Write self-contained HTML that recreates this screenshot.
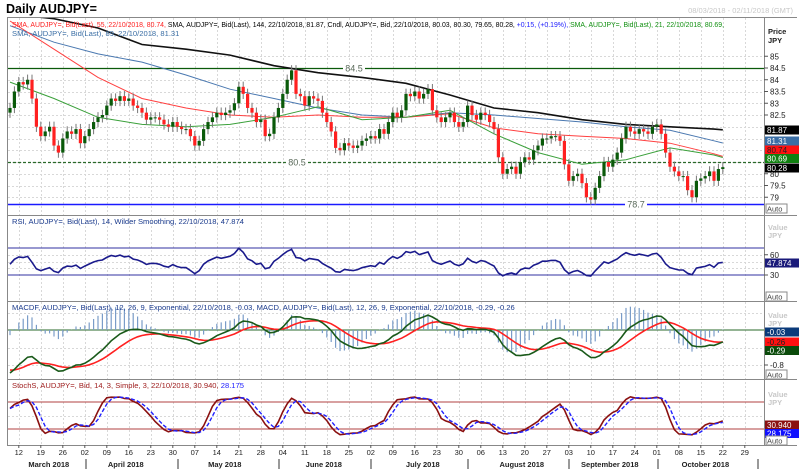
<!DOCTYPE html>
<html><head><meta charset="utf-8"><style>
body{margin:0;background:#fff;}
svg{display:block;font-family:"Liberation Sans",sans-serif;}
</style></head><body>
<svg id="c" width="800" height="474" viewBox="0 0 800 474">
<rect x="0" y="0" width="800" height="474" fill="#fff"/>
<text x="6" y="13" font-size="12.5" font-weight="bold" fill="#000">Daily AUDJPY=</text>
<text x="793" y="13" font-size="7.5" fill="#c8c8c8" text-anchor="end">08/03/2018 - 02/11/2018 (GMT)</text>
<g id="grid"></g>
<g id="frame" stroke="#888" fill="none" stroke-width="1">
<line x1="7.5" y1="17" x2="7.5" y2="445"/>
<line x1="7.5" y1="17.5" x2="797" y2="17.5"/>
<line x1="764.5" y1="17" x2="764.5" y2="445"/>
<line x1="7" y1="215.5" x2="797" y2="215.5"/>
<line x1="7" y1="301.5" x2="797" y2="301.5"/>
<line x1="7" y1="379.5" x2="797" y2="379.5"/>
<line x1="7" y1="445.5" x2="797" y2="445.5"/>
</g>
<g id="price"></g><g id="rsi"></g><g id="macd"></g><g id="stoch"></g><g id="axes"></g>
<g font-size="7.6">
<text x="12" y="27" textLength="712" lengthAdjust="spacingAndGlyphs"><tspan fill="#ff2020">SMA, AUDJPY=, Bid(Last),  55, 22/10/2018, 80.74, </tspan><tspan fill="#000">SMA, AUDJPY=, Bid(Last),  144, 22/10/2018, 81.87, Cndl, AUDJPY=, Bid, 22/10/2018, 80.03, 80.30, 79.65, 80.28, </tspan><tspan fill="#2020ff">+0.15, (+0.19%), </tspan><tspan fill="#109010">SMA, AUDJPY=, Bid(Last),  21, 22/10/2018, 80.69,</tspan></text>
<text x="12" y="36" fill="#3a6ea5">SMA, AUDJPY=, Bid(Last),  89, 22/10/2018, 81.31</text>
</g>
<text x="12" y="224" font-size="7.6" fill="#1a3a8c">RSI, AUDJPY=, Bid(Last),  14, Wilder Smoothing, 22/10/2018, 47.874</text>
<text x="12" y="310" font-size="7.6" fill="#1a3a8c">MACDF, AUDJPY=, Bid(Last),  12, 26, 9, Exponential, 22/10/2018, -0.03, MACD, AUDJPY=, Bid(Last),  12, 26, 9, Exponential, 22/10/2018, -0.29, -0.26</text>
<text x="12" y="388" font-size="7.6"><tspan fill="#a02020">StochS, AUDJPY=, Bid,  14, 3, Simple, 3, 22/10/2018, 30.940, </tspan><tspan fill="#2020ff">28.175</tspan></text>
</svg>
<script>
const closes=[82.8,83.5,83.9,83.8,84.0,83.2,82.0,81.6,81.8,82.0,
81.2,80.9,81.5,81.8,81.7,81.9,81.3,81.6,81.9,82.2,
82.4,82.5,82.9,83.2,83.1,83.3,83.1,83.2,82.9,82.8,
82.6,82.3,82.4,82.4,82.3,82.1,82.0,82.2,82.0,81.9,
81.9,81.6,81.2,81.4,81.9,82.2,82.4,82.6,82.5,82.6,
82.7,83.0,83.7,83.4,82.8,82.6,82.2,82.3,81.6,81.7,
82.4,82.8,83.4,84.0,84.4,83.4,83.3,82.9,83.3,83.2,
83.1,82.6,82.2,81.8,81.1,81.0,81.3,81.2,81.1,81.2,
81.4,81.5,81.6,81.5,81.9,81.7,82.2,82.6,82.4,82.7,
83.4,83.3,83.5,83.2,83.4,83.6,82.7,82.4,82.2,82.4,
82.6,82.2,82.0,82.2,82.9,82.5,82.3,82.6,82.5,82.2,
81.9,80.7,80.0,80.2,80.3,80.0,80.5,80.7,80.6,81.0,
81.2,81.5,81.5,81.6,81.6,81.4,80.4,79.7,79.9,80.0,
79.6,79.0,78.9,79.4,79.9,80.5,80.3,80.6,80.9,81.5,
82.0,81.8,81.7,81.9,81.8,81.7,82.0,82.1,81.7,80.9,
80.3,80.1,79.9,79.9,79.3,79.0,79.7,79.8,79.9,80.1,
79.7,80.2,80.28];
const firstOpen=82.6;
const maIndex=[0,10,20,30,40,50,60,70,80,90,100,110,120,130,140,150,160,162];
const sma21=[83.9,83.2,82.4,82.1,82.0,82.1,82.4,82.85,82.3,82.4,82.7,81.7,80.9,80.4,80.6,81.1,80.8,80.69];
const sma55=[86.5,85.3,84.1,83.2,82.8,82.5,82.4,82.5,82.4,82.4,82.55,81.95,81.7,81.6,81.5,81.3,80.85,80.74];
const sma89=[86.3,85.6,85.1,84.75,84.2,83.6,83.2,82.8,82.5,82.4,82.6,82.5,82.35,82.2,82.0,81.85,81.4,81.31];
const sma144=[86.8,86.6,86.2,85.5,85.3,85.05,84.6,84.3,84.1,83.85,83.35,82.8,82.6,82.3,82.1,82.0,81.9,81.87];
const priceTicks=[85,84.5,84,83.5,83,82.5,80,79.5,79];
const levelLines=[84.5,80.5,78.7];
const rsiTicks=[60,30];
const macdTicks=[-0.8];
const lastRsi="47.874", lastMacdf="-0.03", lastSignal="-0.26", lastMacd="-0.29", lastK="30.940", lastD="28.175";
const dayLabels=["12","19","26","02","09","16","23","30","07","14","21","28","04","11","18","25","02","09","16","23","30","06","13","20","27","03","10","17","24","01","08","15","22","29"];
const monthLabels=["March 2018","April 2018","May 2018","June 2018","July 2018","August 2018","September 2018","October 2018"];
const monthFirstWeek=[0,3,7,12,16,21,25,29];
const rsiSeed={gain:0.17,loss:0.2};
const macdSeed={fast:83.5,slow:84.5,signal:-0.9};

const NS="http://www.w3.org/2000/svg";
function el(tag,attrs,parent){const e=document.createElementNS(NS,tag);for(const k in attrs)e.setAttribute(k,attrs[k]);parent.appendChild(e);return e;}
const X=i=>10+4.4*i;
const PY=p=>68+(84.5-p)*23.5;
const RY=v=>248+(70-v)*0.675;
const MY=v=>330-v*43.75;
const SY=v=>402+(80-v)*0.45;
const n=closes.length;
const opens=closes.map((c,i)=>i===0?firstOpen:closes[i-1]);
const highs=closes.map((c,i)=>Math.max(c,opens[i])+0.22);
const lows=closes.map((c,i)=>Math.min(c,opens[i])-0.22);

const grid=document.getElementById('grid');
dayLabels.forEach((d,k)=>{const x=Math.round(X(2+5*k))+0.5;
  if(x<764){const g=el('line',{x1:x,y1:18,x2:x,y2:445,stroke:'#d8d8d8','stroke-dasharray':'2,2'},grid);
  }});
for(let p=79;p<=85;p+=0.5){const y=Math.round(PY(p))+0.5;const g=el('line',{x1:8,y1:y,x2:764,y2:y,stroke:'#d8d8d8','stroke-dasharray':'2,2'},grid);}
[40,50,60].forEach(v=>{const y=Math.round(RY(v))+0.5;el('line',{x1:8,y1:y,x2:764,y2:y,stroke:'#d8d8d8','stroke-dasharray':'2,2'},grid);});
[0.4,-0.4,-0.8].forEach(v=>{const y=Math.round(MY(v))+0.5;el('line',{x1:8,y1:y,x2:764,y2:y,stroke:'#d8d8d8','stroke-dasharray':'2,2'},grid);});
[50].forEach(v=>{const y=Math.round(SY(v))+0.5;el('line',{x1:8,y1:y,x2:764,y2:y,stroke:'#d8d8d8','stroke-dasharray':'2,2'},grid);});

const pg=document.getElementById('price');
const lvlColors=['#0a5a0a','#2a6a2a','#1a1aff'];
levelLines.forEach((lv,k)=>{const y=Math.round(PY(lv))+0.5;
  const l=el('line',{x1:8,y1:y,x2:764,y2:y,stroke:lvlColors[k],'stroke-width':k==2?1.5:1.3,'stroke-dasharray':k==1?'3,2':'none'},pg);
  
  const lx=[345,288,627][k];
  el('rect',{x:lx-2,y:y-5,width:22,height:10,fill:'#fff'},pg);
  const t=el('text',{x:lx+9,y:y+3,'font-size':9,fill:'#5a6a5a','text-anchor':'middle'},pg);t.textContent=lv;
  });
function maLine(vals,color,w,name){const d=vals.map((v,k)=>(k?'L':'M')+X(maIndex[k]).toFixed(1)+','+PY(v).toFixed(1)).join('');
  const p=el('path',{d:d,fill:'none',stroke:color,'stroke-width':w,'clip-path':'url(#cp)'},pg);
  }
const defs=el('defs',{},document.getElementById('c'));
const cp=el('clipPath',{id:'cp'},defs);el('rect',{x:8,y:18,width:756,height:197},cp);
maLine(sma144,'#111',1.6,'sma-144-line');
maLine(sma89,'#4a78b0',1,'sma-89-line');
maLine(sma55,'#ff4040',1,'sma-55-line');
maLine(sma21,'#3aa03a',1,'sma-21-line');
for(let i=0;i<n;i++){const up=closes[i]>=opens[i];const x=X(i);
  const w=el('line',{x1:x,y1:PY(highs[i]),x2:x,y2:PY(lows[i]),stroke:'#777','stroke-width':1},pg);
  
  const top=PY(Math.max(opens[i],closes[i]));const h=Math.max(1,PY(Math.min(opens[i],closes[i]))-top);
  const b=el('rect',{x:x-1.6,y:top,width:3.2,height:h,fill:up?'#0a5a0a':'#ff2020'},pg);
  }

const rg=document.getElementById('rsi');
[70,30].forEach(v=>{const l=el('line',{x1:8,y1:RY(v),x2:764,y2:RY(v),stroke:'#3030a0','stroke-width':1},rg);});
let ag=rsiSeed.gain,al=rsiSeed.loss;const rsi=[];
for(let i=0;i<n;i++){const ch=i?closes[i]-closes[i-1]:0;ag=(ag*13+Math.max(ch,0))/14;al=(al*13+Math.max(-ch,0))/14;rsi.push(100-100/(1+ag/al));}
const rp=el('path',{d:rsi.map((v,i)=>(i?'L':'M')+X(i).toFixed(1)+','+RY(v).toFixed(1)).join(''),fill:'none',stroke:'#1a1a8c','stroke-width':1.6},rg);


const mg=document.getElementById('macd');
let ef=macdSeed.fast,es=macdSeed.slow,sg=macdSeed.signal;const macd=[],sig=[];
for(let i=0;i<n;i++){ef+=(closes[i]-ef)*2/13;es+=(closes[i]-es)*2/27;const m=ef-es;sg+=(m-sg)*2/10;macd.push(m);sig.push(sg);}
const z=el('line',{x1:8,y1:MY(0),x2:764,y2:MY(0),stroke:'#2a6a2a','stroke-width':1},mg);
for(let i=0;i<n;i++){const h=(macd[i]-sig[i])*1.8;const b=el('line',{x1:X(i),y1:MY(0),x2:X(i),y2:MY(h),stroke:'#7a9cc8','stroke-width':1.2},mg);
  }
const mp=el('path',{d:sig.map((v,i)=>(i?'L':'M')+X(i).toFixed(1)+','+MY(v).toFixed(1)).join(''),fill:'none',stroke:'#ff2020','stroke-width':1.6},mg);

const mp2=el('path',{d:macd.map((v,i)=>(i?'L':'M')+X(i).toFixed(1)+','+MY(v).toFixed(1)).join(''),fill:'none',stroke:'#1a5a1a','stroke-width':1.6},mg);


const sgp=document.getElementById('stoch');
[80,20].forEach(v=>{const l=el('line',{x1:8,y1:SY(v),x2:764,y2:SY(v),stroke:'#b04040','stroke-width':1},sgp);});
const rawK=[];for(let i=0;i<n;i++){const s=Math.max(0,i-13);const hh=Math.max(...highs.slice(s,i+1)),ll=Math.min(...lows.slice(s,i+1));rawK.push(100*(closes[i]-ll)/(hh-ll));}
const sma3=a=>a.map((v,i)=>{const s=a.slice(Math.max(0,i-2),i+1);return s.reduce((x,y)=>x+y,0)/s.length;});
const kS=sma3(rawK),dS=sma3(kS);
const kp=el('path',{d:kS.map((v,i)=>(i?'L':'M')+X(i).toFixed(1)+','+SY(v).toFixed(1)).join(''),fill:'none',stroke:'#8a1010','stroke-width':1.6},sgp);

const dp=el('path',{d:dS.map((v,i)=>(i?'L':'M')+X(i).toFixed(1)+','+SY(v).toFixed(1)).join(''),fill:'none',stroke:'#2020ff','stroke-width':1.4,'stroke-dasharray':'4,2'},sgp);


const ax=document.getElementById('axes');
function txt(x,y,s,attrs,name){const t=el('text',Object.assign({x:x,y:y,'font-size':8,fill:'#222'},attrs||{}),ax);t.textContent=s;return t;}
txt(768,34,'Price',{'font-weight':'bold','font-size':7.5},'price-axis-title');
txt(768,43,'JPY',{'font-weight':'bold','font-size':7.5},'price-axis-unit');
priceTicks.forEach(p=>{el('line',{x1:764,y1:PY(p),x2:768,y2:PY(p),stroke:'#555'},ax);txt(770,PY(p)+3,String(p),{},'price-tick-label');});
function box(y,label,color,tc,name){const r=el('rect',{x:765,y:y-4.5,width:34,height:9,fill:color},ax);txt(767,y+3,label,{fill:tc},name);}
box(130,'81.87','#000','#fff','sma144-value');
box(141,'81.31','#3a6ea5','#fff','sma89-value');
box(150,'80.74','#ff1010','#222','sma55-value');
box(158.5,'80.69','#108010','#fff','sma21-value');
box(168,'80.28','#000','#fff','last-price-value');
function auto(y,name){const r=el('rect',{x:766,y:y-5,width:21,height:9,fill:'#fff',stroke:'#888'},ax);txt(767,y+2.5,'Auto',{'font-size':7.5,fill:'#444'},name+'-label');}
auto(209,'price-auto-button');
txt(768,230,'Value',{fill:'#c8c8c8','font-size':7.5,'font-weight':'bold'},'rsi-axis-title');
txt(768,238,'JPY',{fill:'#c8c8c8','font-size':7.5,'font-weight':'bold'},'rsi-axis-unit');
rsiTicks.forEach(v=>{el('line',{x1:764,y1:RY(v),x2:768,y2:RY(v),stroke:'#555'},ax);txt(770,RY(v)+3,String(v),{},'rsi-tick-label');});
box(263,lastRsi,'#1a1a7a','#fff','rsi-value');
auto(297,'rsi-auto-button');
txt(768,318,'Value',{fill:'#c8c8c8','font-size':7.5,'font-weight':'bold'},'macd-axis-title');
txt(768,326,'JPY',{fill:'#c8c8c8','font-size':7.5,'font-weight':'bold'},'macd-axis-unit');
macdTicks.forEach(v=>{el('line',{x1:764,y1:MY(v),x2:768,y2:MY(v),stroke:'#555'},ax);txt(770,MY(v)+3,String(v),{},'macd-tick-label');});
box(332,lastMacdf,'#0a3a7a','#fff','macdf-value');
box(342,lastSignal,'#ff1010','#222','macd-signal-value');
box(350.5,lastMacd,'#0a4a0a','#fff','macd-value');
auto(375,'macd-auto-button');
txt(768,397,'Value',{fill:'#c8c8c8','font-size':7.5,'font-weight':'bold'},'stoch-axis-title');
txt(768,405,'JPY',{fill:'#c8c8c8','font-size':7.5,'font-weight':'bold'},'stoch-axis-unit');
box(425,lastK,'#8a1010','#fff','stoch-k-value');
box(433.5,lastD,'#1010ff','#fff','stoch-d-value');
auto(441,'stoch-auto-button');
dayLabels.forEach((d,k)=>{const x=X(2+5*k);el('line',{x1:x,y1:445,x2:x,y2:448,stroke:'#555'},ax);txt(x,455,d,{'text-anchor':'middle','font-size':7.5},'date-tick-label');});
monthLabels.forEach((m,k)=>{const a=X(2+5*monthFirstWeek[k]);const b=k<monthLabels.length-1?X(2+5*monthFirstWeek[k+1]):760;
  txt((a+b)/2-3,467,m,{'text-anchor':'middle','font-weight':'bold','font-size':7.5},'month-label');
  const sx=[86,178,279,371,468,569,658,758][k];el('line',{x1:sx,y1:459,x2:sx,y2:469,stroke:'#333'},ax);});
</script>
</body></html>
